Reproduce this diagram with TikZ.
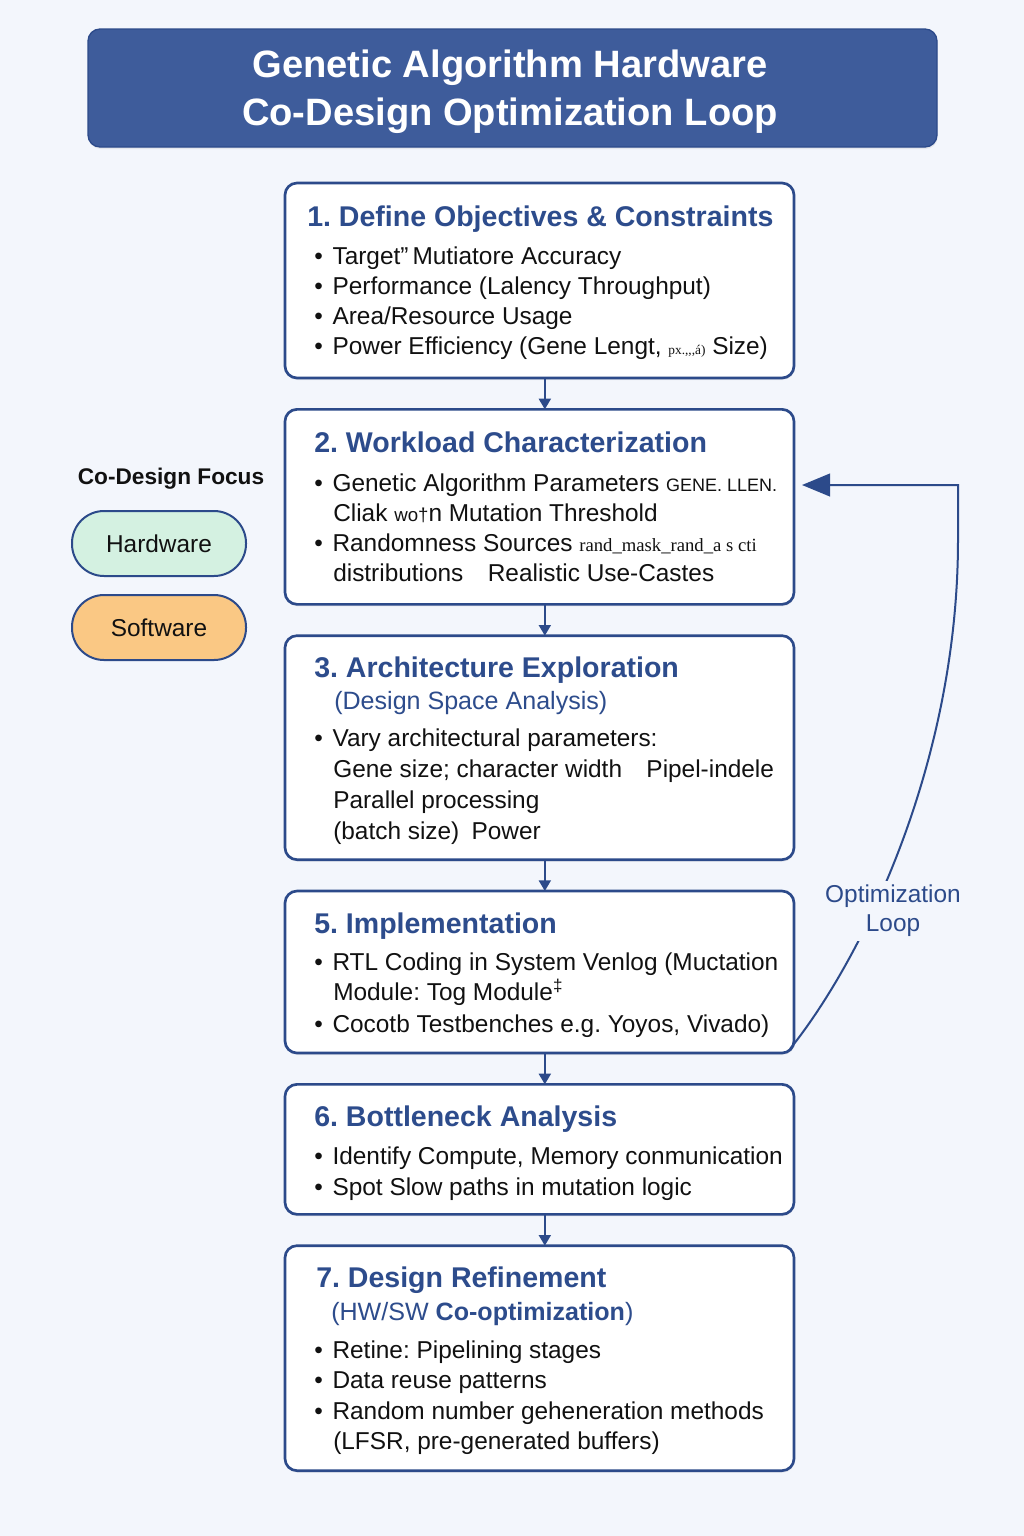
\documentclass[tikz,border=0pt]{standalone}
\usepackage{fontspec}
\setmainfont{Liberation Sans}
\newfontfamily\oddserif{Liberation Serif}
\usetikzlibrary{calc}
\usetikzlibrary{positioning}
\usetikzlibrary{arrows.meta, shadows}
\definecolor{pagebg}{RGB}{243,246,252}
\definecolor{titleblue}{RGB}{62,92,155}
\definecolor{navy}{RGB}{44,74,138}
\definecolor{headblue}{RGB}{45,76,140}
\definecolor{mint}{RGB}{212,241,225}
\definecolor{peach}{RGB}{250,200,132}
\definecolor{ink}{RGB}{17,17,17}
\frenchspacing
\newcommand{\bul}{\textbullet\hspace{0.4em}}

\begin{document}
\begin{tikzpicture}[x=0.75pt,y=0.75pt,yscale=-1,xscale=1,
    stepbox/.style={draw=navy, line width=2pt, fill=white, rounded corners=9pt, minimum width=381.75pt, outer sep=0pt,
        drop shadow={opacity=0.12, shadow xshift=0.5pt, shadow yshift=-1.5pt}},
    pill/.style={draw=navy, line width=1.5pt, rounded corners=24pt, minimum width=130.5pt, minimum height=48.75pt,
        outer sep=0pt, text=ink, font=\fontsize{18.3}{22}\selectfont},
    head/.style={anchor=base west, inner sep=0pt, text=headblue, font=\fontsize{21.4}{26}\selectfont\bfseries},
    subhead/.style={anchor=base west, inner sep=0pt, text=headblue, font=\fontsize{18.8}{22}\selectfont},
    item/.style={anchor=base west, inner sep=0pt, text=ink, font=\fontsize{18.3}{22}\selectfont},
    flow/.style={draw=navy, line width=1.5pt, -{Triangle[length=8pt,width=9pt]}},
    loopline/.style={draw=navy, line width=1.5pt, -{Triangle[length=21pt,width=17pt]}},
    node distance=23.5pt]

    %background
    \fill[pagebg] (0,0) rectangle (1024,1536);

    %title bar
    \node[draw=navy, line width=1pt, fill=titleblue, rounded corners=9pt, minimum width=636.75pt, minimum height=88.5pt,
        drop shadow={opacity=0.12, shadow xshift=0.5pt, shadow yshift=-1.5pt}] (title) at (512.5,88) {};
    \node[text=white, align=center, font=\fontsize{28.6}{36}\selectfont\bfseries] (titletxt) at (510,91.5)
        {Genetic Algorithm Hardware\\Co-Design Optimization Loop};

    %steps
    \node[stepbox, minimum height=146.25pt] (b1) at (539.5,280.5) {};
    \node[stepbox, minimum height=146.25pt, below=of b1] (b2) {};
    \node[stepbox, minimum height=168pt, below=of b2] (b3) {};
    \node[stepbox, minimum height=121.5pt, below=of b3] (b5) {};
    \node[stepbox, minimum height=97.5pt, below=of b5] (b6) {};
    \node[stepbox, minimum height=168.75pt, below=of b6] (b7) {};

    %arrows between steps
    \draw[flow] ([xshift=4pt]b1.south) -- ([xshift=4pt]b2.north);
    \draw[flow] ([xshift=4pt]b2.south) -- ([xshift=4pt]b3.north);
    \draw[flow] ([xshift=4pt]b3.south) -- ([xshift=4pt]b5.north);
    \draw[flow] ([xshift=4pt]b5.south) -- ([xshift=4pt]b6.north);
    \draw[flow] ([xshift=4pt]b6.south) -- ([xshift=4pt]b7.north);

    % Text Node 1
    \node[head] (b1h) at (307,226) {1. Define Objectives \& Constraints};
    \node[item] (b1i1) at (314,264) {\bul Target"\,Mutiatore Accuracy};
    \node[item] (b1i2) at (314,294) {\bul Performance (Lalency Throughput)};
    \node[item] (b1i3) at (314,324) {\bul Area/Resource Usage};
    \node[item] (b1i4) at (314,354) {\bul Power Efficiency (Gene Lengt, {\oddserif\fontsize{10}{12}\selectfont px.,,,á)} Size)};

    % Text Node 2
    \node[head] (b2h) at (314,452) {2. Workload Characterization};
    \node[item] (b2i1) at (314,491) {\bul Genetic Algorithm Parameters {\fontsize{13.5}{16}\selectfont GENE. LLEN.}};
    \node[item] (b2i2) at (333,521) {Cliak {\fontsize{14}{16}\selectfont wo†}n Mutation Threshold};
    \node[item] (b2i3) at (314,551) {\bul Randomness Sources {\oddserif\fontsize{14}{16}\selectfont rand\_mask\_rand\_a s cti}};
    \node[item] (b2i4) at (333,581) {distributions\quad Realistic Use-Castes};

    % Text Node 3
    \node[head] (b3h) at (314,677) {3. Architecture Exploration};
    \node[subhead] (b3s) at (334,709) {(Design Space Analysis)};
    \node[item] (b3i1) at (314,746) {\bul Vary architectural parameters:};
    \node[item] (b3i2) at (333,777) {Gene size; character width\quad Pipel-indele};
    \node[item] (b3i3) at (333,808) {Parallel processing};
    \node[item] (b3i4) at (333,839) {(batch size)\enspace Power};

    % Text Node 5
    \node[head] (b5h) at (314,933) {5. Implementation};
    \node[item] (b5i1) at (314,970) {\bul RTL Coding in System Venlog (Muctation};
    \node[item] (b5i2) at (333,1000) {Module: Tog Module\textsuperscript{‡}};
    \node[item] (b5i3) at (314,1032) {\bul Cocotb Testbenches e.g. Yoyos, Vivado)};

    % Text Node 6
    \node[head] (b6h) at (314,1126) {6. Bottleneck Analysis};
    \node[item] (b6i1) at (314,1164) {\bul Identify Compute, Memory conmunication};
    \node[item] (b6i2) at (314,1195) {\bul Spot Slow paths in mutation logic};

    % Text Node 7
    \node[head] (b7h) at (316,1287) {7. Design Refinement};
    \node[subhead] (b7s) at (331,1320) {(HW/SW \textbf{Co-optimization})};
    \node[item] (b7i1) at (314,1358) {\bul Retine: Pipelining stages};
    \node[item] (b7i2) at (314,1388) {\bul Data reuse patterns};
    \node[item] (b7i3) at (314,1419) {\bul Random number geheneration methods};
    \node[item] (b7i4) at (333,1449) {(LFSR, pre-generated buffers)};

    %legend
    \node[text=ink, font=\fontsize{17}{20}\selectfont\bfseries] (focus) at (171,479) {Co-Design Focus};
    \node[pill, fill=mint] (hw) at (159,543.5) {Hardware};
    \node[pill, fill=peach, below=14.25pt of hw] (sw) {Software};

    %optimization loop
    \coordinate (loopbend) at (958,540);
    \coordinate (loopcorner) at (958,485);
    \coordinate (looptip) at (802,485);
    \draw[loopline] ($(b5.south east)+(-4,-4)$) .. controls (865,955) and (958,760) .. (loopbend) -- (loopcorner) -- (looptip);
    \node[fill=pagebg, inner sep=3pt, align=center, text=navy, font=\fontsize{18.3}{22}\selectfont] (optlbl) at (893,911) {Optimization\\Loop};

\end{tikzpicture}
\end{document}
